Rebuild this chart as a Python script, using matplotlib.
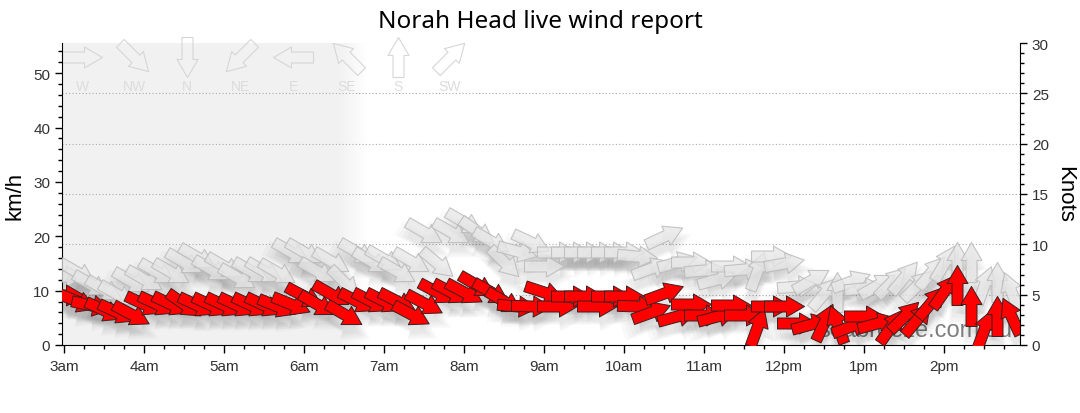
import numpy as np
import matplotlib
matplotlib.use('Agg')
import matplotlib.pyplot as plt
from matplotlib.markers import MarkerStyle
from matplotlib.path import Path
from matplotlib.transforms import Affine2D, ScaledTranslation

plt.rcParams['font.family'] = ['Liberation Sans', 'DejaVu Sans']

KMH_PER_KNOT = 1.852

# observation times (local), every reading shown on the chart
times = ["03:00", "03:10", "03:20", "03:30", "03:40", "03:50",
         "04:00", "04:10", "04:20", "04:30", "04:40", "04:50",
         "05:00", "05:10", "05:20", "05:30", "05:40", "05:50",
         "06:00", "06:10", "06:20", "06:30", "06:40", "06:50",
         "07:00", "07:10", "07:20", "07:30", "07:40", "07:50",
         "08:00", "08:10", "08:20", "08:30", "08:40", "08:50",
         "09:00", "09:10", "09:20", "09:30", "09:40", "09:50",
         "10:00", "10:10", "10:20", "10:30", "10:40", "10:50",
         "11:00", "11:10", "11:20", "11:30", "11:40", "11:50",
         "12:00", "12:10", "12:20", "12:30", "12:40", "12:50",
         "13:00", "13:10", "13:20", "13:30", "13:40", "13:50",
         "14:00", "14:10", "14:20", "14:30", "14:40", "14:50"]

# average wind, km/h, and direction it comes from (degrees)
wind_kmh = [9.2, 8.1, 7.4, 6.5, 6.0, 5.7,
            7.6, 7.6, 7.6, 7.6, 7.4, 7.4,
            7.4, 7.4, 7.4, 7.4, 7.2, 7.6,
            9.0, 7.6, 9.4, 5.7, 8.1, 8.1,
            8.1, 8.1, 5.7, 7.8, 9.8, 9.8,
            9.8, 11.0, 9.8, 8.1, 7.2, 7.2,
            9.8, 7.2, 9.0, 9.0, 7.2, 9.0,
            9.0, 7.2, 6.1, 9.6, 5.3, 7.6,
            5.5, 5.3, 7.4, 5.5, 3.3, 7.2,
            7.2, 4.1, 3.9, 4.2, 3.9, 3.5,
            5.3, 4.1, 3.5, 5.3, 4.8, 7.9,
            9.9, 11.0, 7.2, 3.0, 5.3, 5.3]
wind_dir = [270, 292, 282, 295, 295, 298,
            295, 295, 295, 305, 295, 295,
            295, 295, 295, 295, 292, 292,
            298, 300, 300, 300, 297, 297,
            297, 297, 298, 298, 298, 298,
            298, 300, 300, 300, 275, 272,
            288, 270, 270, 270, 270, 270,
            270, 272, 250, 250, 255, 270,
            270, 255, 270, 270, 200, 270,
            270, 270, 255, 205, 160, 250,
            270, 255, 215, 225, 220, 220,
            215, 180, 180, 200, 180, 155]

# gusts, km/h, and direction
gust_kmh = [12.7, 13.4, 11.2, 10.3, 9.4, 11.8,
            12.2, 13.4, 13.4, 15.3, 16.2, 14.0,
            14.6, 12.5, 13.6, 13.6, 13.4, 17.1,
            17.1, 13.6, 15.5, 11.6, 17.1, 15.5,
            15.8, 13.6, 15.5, 20.8, 15.1, 20.8,
            22.7, 21.0, 19.2, 15.3, 17.3, 19.0,
            14.6, 17.1, 17.1, 17.1, 17.1, 17.1,
            17.1, 16.4, 14.2, 20.1, 15.3, 15.3,
            13.8, 12.2, 14.6, 14.0, 13.6, 16.4,
            15.0, 10.9, 12.0, 9.5, 9.8, 11.8,
            10.5, 11.0, 11.6, 12.5, 11.0, 13.4,
            15.0, 15.3, 15.3, 11.0, 11.6, 10.0]
gust_dir = [270, 300, 300, 300, 300, 300,
            300, 300, 300, 300, 300, 300,
            300, 300, 300, 300, 300, 300,
            300, 300, 300, 315, 300, 300,
            300, 300, 300, 300, 310, 300,
            300, 305, 300, 315, 285, 295,
            270, 270, 270, 270, 270, 270,
            270, 275, 250, 245, 255, 270,
            265, 255, 270, 265, 200, 270,
            260, 265, 240, 220, 180, 250,
            265, 240, 225, 220, 225, 220,
            210, 180, 180, 200, 180, 160]

hour_ticks = [3, 4, 5, 6, 7, 8, 9, 10, 11, 12, 13, 14]
hour_labels = ["3am", "4am", "5am", "6am", "7am", "8am", "9am",
               "10am", "11am", "12pm", "1pm", "2pm"]
kmh_ticks = [0, 10, 20, 30, 40, 50]
knot_ticks = [0, 5, 10, 15, 20, 25, 30]

legend_names = ["W", "NW", "N", "NE", "E", "SE", "S", "SW"]
legend_deg = [270, 315, 0, 45, 90, 135, 180, 225]

# arrow outline, 40 px long
ARROW = Path([(-20, -5.5), (2, -5.5), (2, -10.5), (20, 0), (2, 10.5),
              (2, 5.5), (-20, 5.5), (-20, -5.5)],
             [Path.MOVETO] + [Path.LINETO] * 6 + [Path.CLOSEPOLY])
MS = 28.8  # points -> 40 px at 100 dpi


def arrow_marker(deg):
    # arrow points the way the wind blows
    r = np.radians(deg)
    ang = np.degrees(np.arctan2(-np.cos(r), -np.sin(r)))
    return MarkerStyle(ARROW, transform=Affine2D().rotate_deg(ang))


def to_hours(s):
    h, m = s.split(":")
    return int(h) + int(m) / 60.0


W, H = 1080, 414
fig = plt.figure(figsize=(W / 100, H / 100), dpi=100)
ax = fig.add_axes([62 / W, (H - 346) / H, (1020 - 62) / W, (346 - 44) / H])
ax2 = ax.twinx()

ymax = 30 * KMH_PER_KNOT
xlim = (3 - 2 / 80, 3 + 956 / 80)

# grey legend panel with soft right edge
ncol = 400
xs = np.linspace(0, 1, ncol)
alpha = np.clip((0.318 - xs * 0.33) / 0.03, 0, 1)
img = np.ones((2, ncol, 4)) * 0.949
img[..., 3] = alpha
ax.imshow(img, extent=(0, 0.33, 0, 1), transform=ax.transAxes,
          aspect='auto', zorder=0, interpolation='bilinear')
ax.set_xlim(*xlim)
ax.set_ylim(0, ymax)
ax.set_autoscale_on(False)

for k in knot_ticks[1:-1]:
    ax.axhline(k * KMH_PER_KNOT, color='#aaaaaa', lw=0.8, ls=(0, (1, 2)), zorder=1)

ax.text(0.992, 0.030, "seabreeze.com.au", transform=ax.transAxes,
        fontsize=17, color='#7f7f7f', ha='right', va='baseline', zorder=1.5)

# legend arrows
leg_x = [82, 134, 187, 240, 293, 347, 398, 450]
for name, deg, px in zip(legend_names, legend_deg, leg_x):
    fx = (px - 62) / 958
    ax.plot([fx], [0.955], transform=ax.transAxes, marker=arrow_marker(deg),
            markersize=MS, mfc='none', mec='#d6d6d6', mew=0.8,
            ls='none', clip_on=False, zorder=1.2)
    ax.text(fx, 0.858, name, transform=ax.transAxes, fontsize=10,
            color='#dcdcdc', ha='center', va='center', zorder=1.2)

t = [to_hours(s) for s in times]

# soft shadows beneath the arrows
off = ax.transData + ScaledTranslation(0, -0.10, fig.dpi_scale_trans)
for series, dirs in [(gust_kmh, gust_dir), (wind_kmh, wind_dir)]:
    for x, v, d in zip(t, series, dirs):
        m = arrow_marker(d)
        for s in (0.9, 1.1, 1.3, 1.5):
            ax.plot([x], [v], transform=off, marker=m, markersize=MS * s,
                    mfc=(0, 0, 0, 0.022), mec='none', ls='none', zorder=2)

for x, v, d in zip(t, gust_kmh, gust_dir):
    ax.plot([x], [v], marker=arrow_marker(d), markersize=MS,
            mfc=(0.9, 0.9, 0.9, 0.75), mec=(0.72, 0.72, 0.72, 0.8),
            mew=0.8, ls='none', zorder=3)

for x, v, d in zip(t, wind_kmh, wind_dir):
    ax.plot([x], [v], marker=arrow_marker(d), markersize=MS,
            mfc='#ff0000', mec='#3a2020', mew=0.7, ls='none', zorder=4)

# axes cosmetics
ax.set_xticks(hour_ticks)
ax.set_xticklabels(hour_labels)
ax.set_xticks(np.arange(3, 15, 0.25), minor=True)
ax.set_yticks(kmh_ticks)
ax.set_yticks(np.arange(0, 56, 2), minor=True)
ax.tick_params(axis='both', which='major', length=5, width=1, colors='black',
               labelcolor='#333333', labelsize=11)
ax.tick_params(axis='both', which='minor', length=3, width=1, colors='black')
ax.tick_params(axis='x', which='major', length=6, pad=4)

ax2.set_ylim(0, 30)
ax2.set_yticks(knot_ticks)
ax2.set_yticks(np.arange(0, 31, 1), minor=True)
ax2.tick_params(axis='y', which='major', length=5, width=1,
                labelcolor='#333333', labelsize=11)
ax2.tick_params(axis='y', which='minor', length=3, width=1)

for a in (ax, ax2):
    a.spines['top'].set_visible(False)
ax.spines['right'].set_visible(False)
ax2.spines['left'].set_visible(False)
ax2.spines['bottom'].set_visible(False)

fig.text(0.5, 1 - 22 / H, "Norah Head live wind report", ha='center',
         va='center', fontsize=17.5, family=['Noto Sans', 'DejaVu Sans'])
fig.text(15 / W, 1 - 196 / H, "km/h", rotation=90, ha='center', va='center',
         fontsize=16)
fig.text(1065 / W, 1 - 194 / H, "Knots", rotation=270, ha='center',
         va='center', fontsize=16)

fig.savefig("out.png", dpi=100)
